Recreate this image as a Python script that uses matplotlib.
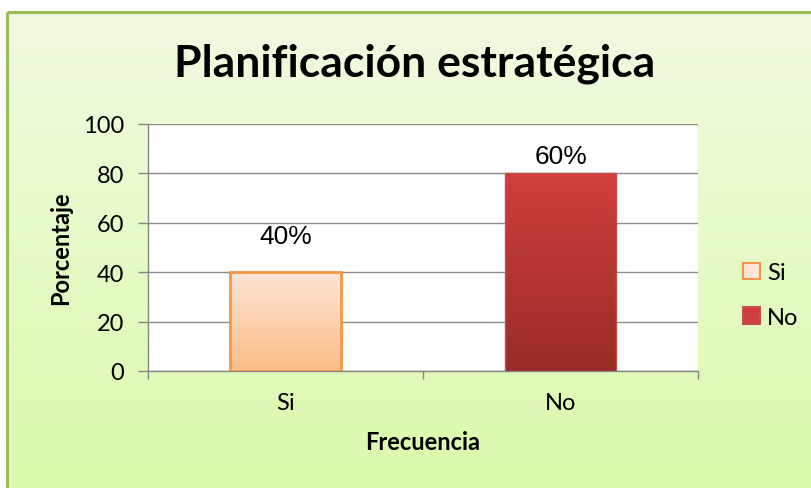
import numpy as np
import matplotlib
matplotlib.use("Agg")
import matplotlib.pyplot as plt
from matplotlib.colors import LinearSegmentedColormap
from matplotlib.patches import Rectangle

# datos
categorias = ["Si", "No"]
valores = [40, 80]
etiquetas = ["40%", "60%"]
color_arriba = ["#fde6d6", "#cf3e3c"]
color_abajo = ["#fbbd88", "#992c2a"]
color_borde = ["#f79646", "#c0504d"]
# altura (en escala del eje) donde Excel coloca cada etiqueta
pos_etiqueta = [54.5, 87]

W, H = 811, 489
fig = plt.figure(figsize=(W / 100, H / 100), dpi=100)
fig.patch.set_facecolor("white")

# fondo con degradado verde
bg = fig.add_axes([0, 0, 1, 1], zorder=-1)
bg.set_xlim(0, W)
bg.set_ylim(H, 0)
bg.axis("off")
grad = np.linspace(0, 1, 256).reshape(-1, 1)
cmap_bg = LinearSegmentedColormap.from_list("bg", ["#f1fbe2", "#dcf9ac"])
bg.imshow(grad, cmap=cmap_bg, aspect="auto", extent=[7, W, H, 13], zorder=0)
bg.add_patch(Rectangle((7, 13), W, H, fill=False, edgecolor="#9bbb59", lw=2.2, zorder=1))

ax = fig.add_axes([148 / W, 1 - 372 / H, 550 / W, 247 / H])
ax.set_facecolor("white")
x = np.arange(len(categorias))
ancho = 0.405

bars = ax.bar(x, valores, width=ancho, color="none", zorder=3)
for i, b in enumerate(bars):
    cm = LinearSegmentedColormap.from_list("b%d" % i, [color_arriba[i], color_abajo[i]])
    x0, y0 = b.get_x(), b.get_y()
    w, h = b.get_width(), b.get_height()
    im = ax.imshow(grad, cmap=cm, aspect="auto", extent=[x0, x0 + w, y0, y0 + h],
                   origin="upper", zorder=3)
    im.set_clip_path(b)
    ax.add_patch(Rectangle((x0, y0), w, h, fill=False, edgecolor=color_borde[i],
                           lw=2 if i == 0 else 1, zorder=4))
    ax.text(b.get_x() + w / 2, pos_etiqueta[i], etiquetas[i], ha="center", va="center",
            fontsize=19, family="Liberation Sans", color="black", zorder=5)

ax.set_xlim(-0.5, 1.5)
ax.set_ylim(0, 100)
ax.set_yticks(range(0, 101, 20))
ax.set_xticks(x)
ax.set_xticklabels(categorias)
ax.set_xticks([-0.5, 0.5, 1.5], minor=True)
ax.tick_params(axis="x", which="major", length=0, pad=15, labelsize=17)
ax.tick_params(axis="x", which="minor", length=6, color="#868686", width=1)
ax.tick_params(axis="y", length=7, color="#868686", width=1, labelsize=17, pad=10)
for lab in ax.get_xticklabels() + ax.get_yticklabels():
    lab.set_family("Lato")
ax.yaxis.grid(True, color="#8c8c8c", lw=1, zorder=0)
ax.set_axisbelow(True)
for s in ["top", "right"]:
    ax.spines[s].set_visible(False)
for s in ["left", "bottom"]:
    ax.spines[s].set_color("#868686")
    ax.spines[s].set_linewidth(1)

ax.set_xlabel("Frecuencia", family="Lato", fontweight="bold", fontsize=17, labelpad=12)
ax.set_ylabel("Porcentaje", family="Lato", fontweight="bold", fontsize=17, labelpad=8)

fig.text(415 / W, 1 - 64 / H, "Planificación estratégica", ha="center", va="center",
         family="Lato", fontweight="bold", fontsize=32)

# leyenda
handles = [Rectangle((0, 0), 1, 1, facecolor=color_arriba[i], edgecolor=color_borde[i], lw=1.5)
           for i in range(len(categorias))]
leg = fig.legend(handles, categorias, loc="center left", bbox_to_anchor=(722 / W, 1 - 296 / H),
                 frameon=False, prop={"family": "Lato", "size": 17}, handlelength=0.7,
                 handleheight=0.7, handletextpad=0.3, labelspacing=1.0)

fig.savefig("out.png", dpi=100)
